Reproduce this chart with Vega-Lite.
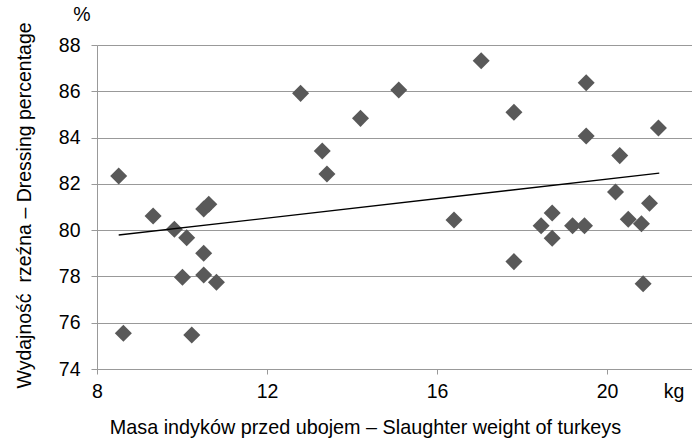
{
  "$schema": "https://vega.github.io/schema/vega-lite/v6.json",
  "width": 595,
  "height": 324,
  "autosize": "none",
  "padding": {"left": 97, "top": 45, "right": 0, "bottom": 73},
  "background": "white",
  "config": {
    "view": {"stroke": null},
    "font": "Liberation Sans",
    "axis": {"labelFont": "Liberation Sans", "titleFont": "Liberation Sans", "labelColor": "black", "titleColor": "black", "titleFontWeight": "normal"}
  },
  "datasets": {
    "points": [
      {"mass": 8.51, "dressing": 82.34},
      {"mass": 8.62, "dressing": 75.54},
      {"mass": 9.32, "dressing": 80.61},
      {"mass": 9.82, "dressing": 80.04},
      {"mass": 10.11, "dressing": 79.67},
      {"mass": 10.01, "dressing": 77.96},
      {"mass": 10.23, "dressing": 75.47},
      {"mass": 10.51, "dressing": 79.00},
      {"mass": 10.51, "dressing": 78.06},
      {"mass": 10.51, "dressing": 80.91},
      {"mass": 10.63, "dressing": 81.12},
      {"mass": 10.81, "dressing": 77.75},
      {"mass": 12.79, "dressing": 85.91},
      {"mass": 15.10, "dressing": 86.06},
      {"mass": 14.20, "dressing": 84.83},
      {"mass": 13.30, "dressing": 83.42},
      {"mass": 13.41, "dressing": 82.43},
      {"mass": 16.40, "dressing": 80.44},
      {"mass": 17.04, "dressing": 87.32},
      {"mass": 19.51, "dressing": 86.37},
      {"mass": 17.81, "dressing": 85.09},
      {"mass": 19.51, "dressing": 84.07},
      {"mass": 21.21, "dressing": 84.41},
      {"mass": 20.30, "dressing": 83.22},
      {"mass": 20.20, "dressing": 81.65},
      {"mass": 21.00, "dressing": 81.16},
      {"mass": 18.71, "dressing": 80.74},
      {"mass": 18.45, "dressing": 80.19},
      {"mass": 18.71, "dressing": 79.65},
      {"mass": 19.19, "dressing": 80.19},
      {"mass": 19.47, "dressing": 80.19},
      {"mass": 20.50, "dressing": 80.47},
      {"mass": 20.81, "dressing": 80.28},
      {"mass": 17.81, "dressing": 78.64},
      {"mass": 20.85, "dressing": 77.68}
    ],
    "trend": [
      {"mass": 8.51, "dressing": 79.79},
      {"mass": 21.23, "dressing": 82.46}
    ]
  },
  "layer": [
    {
      "data": {"name": "points"},
      "mark": {"type": "point", "shape": "diamond", "filled": true, "size": 290, "color": "#595959", "opacity": 1},
      "encoding": {
        "x": {
          "field": "mass", "type": "quantitative",
          "scale": {"domain": [8, 22], "nice": false, "zero": false},
          "axis": {
            "values": [8, 12, 16, 20],
            "title": "Masa indyków przed ubojem – Slaughter weight of turkeys",
            "titleFontSize": 19.8,
            "titleX": 268, "titleY": 58, "titleBaseline": "middle", "titleAlign": "center", "titleAnchor": null,
            "labelFontSize": 19.5, "labelPadding": 8,
            "grid": false,
            "domainColor": "#999999", "tickColor": "#999999", "tickSize": 5,
            "labelFlush": false
          }
        },
        "y": {
          "field": "dressing", "type": "quantitative",
          "scale": {"domain": [74, 88], "nice": false, "zero": false},
          "axis": {
            "values": [74, 76, 78, 80, 82, 84, 86, 88],
            "title": "Wydajność\u00a0 rzeźna – Dressing percentage",
            "titleFontSize": 19.5,
            "titleX": -73, "titleY": 160, "titleBaseline": "middle", "titleAlign": "center", "titleAngle": -90, "titleAnchor": null,
            "labelFontSize": 19.5, "labelPadding": 11,
            "grid": true, "gridColor": "#999999", "gridWidth": 1,
            "domainColor": "#999999", "tickColor": "#999999", "tickSize": 6
          }
        }
      }
    },
    {
      "data": {"name": "trend"},
      "mark": {"type": "line", "color": "black", "strokeWidth": 1.3},
      "encoding": {
        "x": {"field": "mass", "type": "quantitative"},
        "y": {"field": "dressing", "type": "quantitative"}
      }
    },
    {
      "data": {"values": [{"label": "kg"}]},
      "mark": {"type": "text", "fontSize": 19.5, "font": "Liberation Sans", "color": "black", "dy": 23, "baseline": "middle", "align": "center", "clip": false},
      "encoding": {
        "x": {"datum": 21.58, "type": "quantitative"},
        "y": {"datum": 74, "type": "quantitative"},
        "text": {"field": "label"}
      }
    },
    {
      "data": {"values": [{"label": "%"}]},
      "mark": {"type": "text", "fontSize": 19.5, "font": "Liberation Sans", "color": "black", "dx": -15, "dy": -30, "baseline": "middle", "align": "center", "clip": false},
      "encoding": {
        "x": {"datum": 8, "type": "quantitative"},
        "y": {"datum": 88, "type": "quantitative"},
        "text": {"field": "label"}
      }
    }
  ]
}
